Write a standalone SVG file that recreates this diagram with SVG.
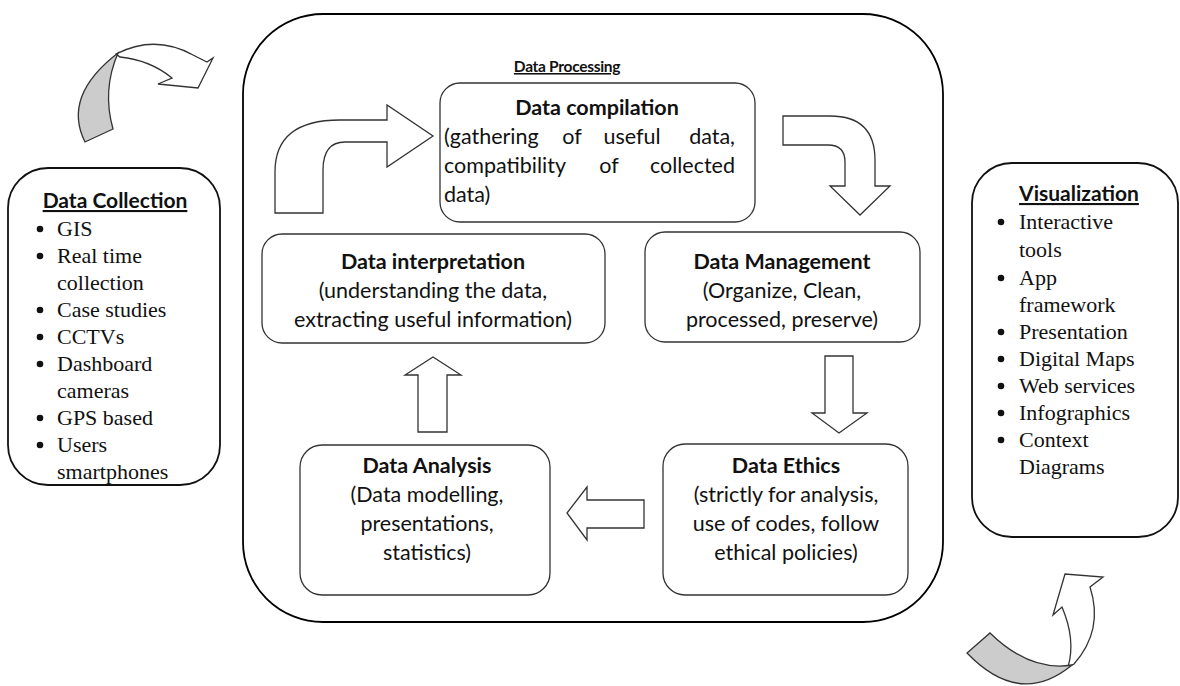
<svg xmlns="http://www.w3.org/2000/svg" width="1180" height="686" viewBox="0 0 1180 686">
<style>
.frame{fill:none;stroke:#000;stroke-width:1.8}
.box{fill:#fff;stroke:#333;stroke-width:1.3}
.side{fill:#fff;stroke:#111;stroke-width:1.8}
.arr{fill:#fff;stroke:#333;stroke-width:1.3;stroke-linejoin:miter}
.gray{fill:#cccccc;stroke:#333;stroke-width:1.3}
.t{font-family:Lato,"Liberation Sans",sans-serif;font-size:21.5px;fill:#111;text-anchor:middle}
.tb{font-family:Lato,"Liberation Sans",sans-serif;font-size:21.5px;font-weight:bold;fill:#111;text-anchor:middle}
.h{font-family:Lato,"Liberation Sans",sans-serif;font-size:21px;font-weight:bold;fill:#111;text-decoration:underline;text-anchor:middle}
.hp{font-family:Lato,"Liberation Sans",sans-serif;font-size:15.5px;font-weight:bold;fill:#111;text-decoration:underline;text-anchor:middle;letter-spacing:-0.3px}
.s{font-family:"Liberation Serif",serif;font-size:22px;fill:#111}
</style>
<rect width="1180" height="686" fill="#fff"/>

<g id="processing">
<rect class="frame" x="243" y="14" width="700" height="608" rx="80" ry="80"/>
<text class="hp" x="567" y="72">Data Processing</text>
</g>

<g id="collection">
<rect class="side" x="8" y="168" width="212" height="317" rx="40" ry="40"/>
<text class="h" x="115" y="208">Data Collection</text>
<g class="s">
<circle cx="40" cy="229" r="3.3"/><text x="57" y="236">GIS</text>
<circle cx="40" cy="256" r="3.3"/><text x="57" y="263">Real time</text>
<text x="57" y="290">collection</text>
<circle cx="40" cy="310" r="3.3"/><text x="57" y="317">Case studies</text>
<circle cx="40" cy="337" r="3.3"/><text x="57" y="344">CCTVs</text>
<circle cx="40" cy="364" r="3.3"/><text x="57" y="371">Dashboard</text>
<text x="57" y="398">cameras</text>
<circle cx="40" cy="418" r="3.3"/><text x="57" y="425">GPS based</text>
<circle cx="40" cy="445" r="3.3"/><text x="57" y="452">Users</text>
<text x="57" y="479">smartphones</text>
</g>
</g>

<g id="visualization">
<rect class="side" x="972" y="163" width="206" height="374" rx="40" ry="40"/>
<text class="h" x="1079" y="201">Visualization</text>
<g class="s">
<circle cx="1001" cy="222" r="3.3"/><text x="1019" y="229">Interactive</text>
<text x="1019" y="257">tools</text>
<circle cx="1001" cy="278" r="3.3"/><text x="1019" y="285">App</text>
<text x="1019" y="312">framework</text>
<circle cx="1001" cy="332" r="3.3"/><text x="1019" y="339">Presentation</text>
<circle cx="1001" cy="359" r="3.3"/><text x="1019" y="366">Digital Maps</text>
<circle cx="1001" cy="386" r="3.3"/><text x="1019" y="393">Web services</text>
<circle cx="1001" cy="413" r="3.3"/><text x="1019" y="420">Infographics</text>
<circle cx="1001" cy="440" r="3.3"/><text x="1019" y="447">Context</text>
<text x="1019" y="474">Diagrams</text>
</g>
</g>

<g id="compilation">
<rect class="box" x="440" y="83" width="315" height="139" rx="20" ry="20"/>
<text class="tb" x="597" y="115">Data compilation</text>
<text class="t" x="444" y="144" text-anchor="start" style="text-anchor:start">(gathering</text>
<text class="t" x="572" y="144">of</text>
<text class="t" x="632" y="144">useful</text>
<text class="t" x="735" y="144" style="text-anchor:end">data,</text>
<text class="t" x="444" y="173" style="text-anchor:start">compatibility</text>
<text class="t" x="609" y="173">of</text>
<text class="t" x="735" y="173" style="text-anchor:end">collected</text>
<text class="t" x="444" y="202" style="text-anchor:start">data)</text>
</g>

<g id="management">
<rect class="box" x="645" y="232" width="275" height="110" rx="20" ry="20"/>
<text class="tb" x="782" y="269">Data Management</text>
<text class="t" x="782" y="298">(Organize, Clean,</text>
<text class="t" x="782" y="327">processed, preserve)</text>
</g>

<g id="ethics">
<rect class="box" x="663" y="444" width="245" height="151" rx="22" ry="22"/>
<text class="tb" x="786" y="473">Data Ethics</text>
<text class="t" x="786" y="502">(strictly for analysis,</text>
<text class="t" x="786" y="531">use of codes, follow</text>
<text class="t" x="786" y="560">ethical policies)</text>
</g>

<g id="analysis">
<rect class="box" x="300" y="445" width="250" height="150" rx="22" ry="22"/>
<text class="tb" x="427" y="473">Data Analysis</text>
<text class="t" x="427" y="502">(Data modelling,</text>
<text class="t" x="427" y="531">presentations,</text>
<text class="t" x="427" y="560">statistics)</text>
</g>

<g id="interpretation">
<rect class="box" x="262" y="234" width="343" height="109" rx="20" ry="20"/>
<text class="tb" x="433" y="269">Data interpretation</text>
<text class="t" x="433" y="298">(understanding the data,</text>
<text class="t" x="433" y="327">extracting useful information)</text>
</g>

<g id="connectors">
<path class="arr" d="M275,213 L275,172 Q275,120 340,120 L387,120 L387,105 L433,136 L387,167 L387,142 L345,142 Q323,142 323,170 L323,213 Z"/>
<path class="arr" d="M783,116 L830,116 Q875,116 875,160 L875,186 L890,186 L860,215 L830,186 L845,186 L845,162 Q845,145 828,145 L783,145 Z"/>
<path class="arr" d="M825,356 L853,356 L853,413 L867,413 L839,433 L812,413 L825,413 Z"/>
<path class="arr" d="M644,500 L644,528 L587,528 L587,540 L567,513 L587,487 L587,500 Z"/>
<path class="arr" d="M418,432 L418,375 L405,375 L433,357 L461,375 L447,375 L447,432 Z"/>
<path class="arr" d="M116,54 Q155,34 193,55 L207,62 L213,58 L198,88 L158,84 L172,78 Q150,60 120,57 Z"/>
<path class="gray" d="M85,142 Q62,96 118,53 Q102,90 113,129 Z"/>
<path class="arr" d="M1062,607 Q1076,640 1068,667 L1074,664 Q1104,630 1090,587 L1103,577 L1065,574 L1053,615 Z"/>
<path class="gray" d="M967,653 Q1020,708 1072,665 Q1030,672 990,633 Z"/>
</g>
</svg>
